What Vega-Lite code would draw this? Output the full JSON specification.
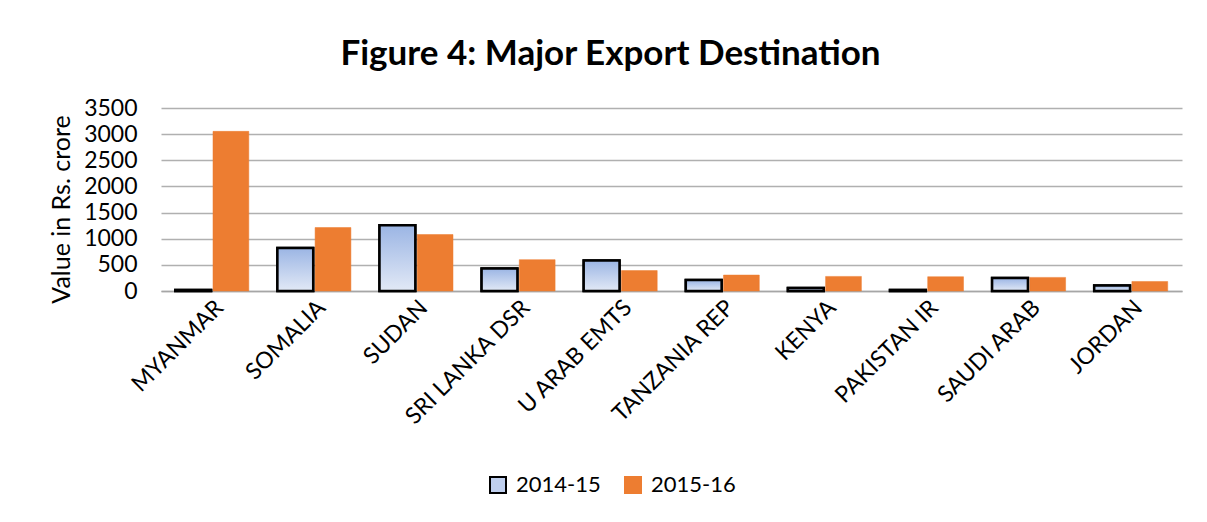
{
  "$schema": "https://vega.github.io/schema/vega-lite/v6.json",
  "autosize": "none",
  "width": 1021,
  "height": 183,
  "padding": {"left": 161, "top": 108, "right": 25, "bottom": 231},
  "background": "white",
  "title": {
    "text": "Figure 4: Major Export Destination",
    "font": "Lato",
    "fontSize": 35,
    "fontWeight": "bold",
    "color": "#000000",
    "anchor": "middle",
    "dx": -61,
    "offset": 25
  },
  "data": {
    "values": [
      {"country": "MYANMAR", "year": "2014-15", "value": 20},
      {"country": "MYANMAR", "year": "2015-16", "value": 3053},
      {"country": "SOMALIA", "year": "2014-15", "value": 824},
      {"country": "SOMALIA", "year": "2015-16", "value": 1214},
      {"country": "SUDAN", "year": "2014-15", "value": 1258},
      {"country": "SUDAN", "year": "2015-16", "value": 1080},
      {"country": "SRI LANKA DSR", "year": "2014-15", "value": 429},
      {"country": "SRI LANKA DSR", "year": "2015-16", "value": 600},
      {"country": "U ARAB EMTS", "year": "2014-15", "value": 584},
      {"country": "U ARAB EMTS", "year": "2015-16", "value": 390},
      {"country": "TANZANIA REP", "year": "2014-15", "value": 208},
      {"country": "TANZANIA REP", "year": "2015-16", "value": 305},
      {"country": "KENYA", "year": "2014-15", "value": 58},
      {"country": "KENYA", "year": "2015-16", "value": 279},
      {"country": "PAKISTAN IR", "year": "2014-15", "value": 20},
      {"country": "PAKISTAN IR", "year": "2015-16", "value": 273},
      {"country": "SAUDI ARAB", "year": "2014-15", "value": 247},
      {"country": "SAUDI ARAB", "year": "2015-16", "value": 260},
      {"country": "JORDAN", "year": "2014-15", "value": 104},
      {"country": "JORDAN", "year": "2015-16", "value": 182}
    ]
  },
  "encoding": {
    "x": {
      "field": "country",
      "type": "nominal",
      "sort": null,
      "scale": {"paddingInner": 0.28, "paddingOuter": 0.14},
      "axis": {
        "title": null,
        "labelAngle": -45,
        "labelFont": "Lato",
        "labelFontSize": 23,
        "labelColor": "#000000",
        "labelPadding": 5,
        "ticks": false,
        "domainColor": "#A6A6A6",
        "domainWidth": 1.5
      }
    },
    "xOffset": {
      "field": "year",
      "type": "nominal",
      "scale": {"paddingInner": 0.05}
    },
    "y": {
      "field": "value",
      "type": "quantitative",
      "scale": {"domain": [0, 3500], "nice": false},
      "axis": {
        "title": "Value in Rs. crore",
        "titleFont": "Lato",
        "titleFontSize": 25,
        "titleFontWeight": "normal",
        "titleColor": "#000000",
        "titlePadding": 9,
        "titleY": 101,
        "values": [0, 500, 1000, 1500, 2000, 2500, 3000, 3500],
        "format": "d",
        "labelFont": "Lato",
        "labelFontSize": 23,
        "labelColor": "#000000",
        "labelPadding": 24,
        "ticks": false,
        "domain": false,
        "gridColor": "#B0B0B0",
        "gridWidth": 1.5
      }
    }
  },
  "layer": [
    {
      "mark": {"type": "bar"},
      "encoding": {
        "fill": {
          "field": "year",
          "type": "nominal",
          "scale": {"domain": ["2014-15", "2015-16"], "range": ["#BFCFEE", "#ED7D31"]},
          "legend": {
            "title": null,
            "orient": "none",
            "direction": "horizontal",
            "legendX": 326,
            "legendY": 366,
            "symbolType": "square",
            "symbolSize": 256,
            "symbolOpacity": 1,
            "symbolStrokeWidth": 2,
            "labelFont": "Lato",
            "labelFontSize": 22,
            "labelColor": "#000000",
            "labelOffset": 7,
            "columnPadding": 20
          }
        },
        "stroke": {
          "field": "year",
          "type": "nominal",
          "scale": {"domain": ["2014-15", "2015-16"], "range": ["#000000", "#ED7D31"]},
          "legend": {
            "title": null,
            "orient": "none",
            "direction": "horizontal",
            "legendX": 326,
            "legendY": 366,
            "symbolType": "square",
            "symbolSize": 256,
            "symbolOpacity": 1,
            "symbolStrokeWidth": 2,
            "labelFont": "Lato",
            "labelFontSize": 22,
            "labelColor": "#000000",
            "labelOffset": 7,
            "columnPadding": 20
          }
        },
        "strokeWidth": {
          "condition": {"test": "datum.year === '2014-15'", "value": 2.5},
          "value": 0.5
        }
      }
    },
    {
      "transform": [{"filter": "datum.year === '2014-15'"}],
      "mark": {
        "type": "bar",
        "fill": {
          "gradient": "linear",
          "x1": 0, "y1": 0, "x2": 0, "y2": 1,
          "stops": [
            {"offset": 0, "color": "#9BB5E4"},
            {"offset": 1, "color": "#E2E9F6"}
          ]
        },
        "stroke": "#000000",
        "strokeWidth": 2.5
      }
    }
  ],
  "config": {
    "view": {"stroke": null}
  }
}
